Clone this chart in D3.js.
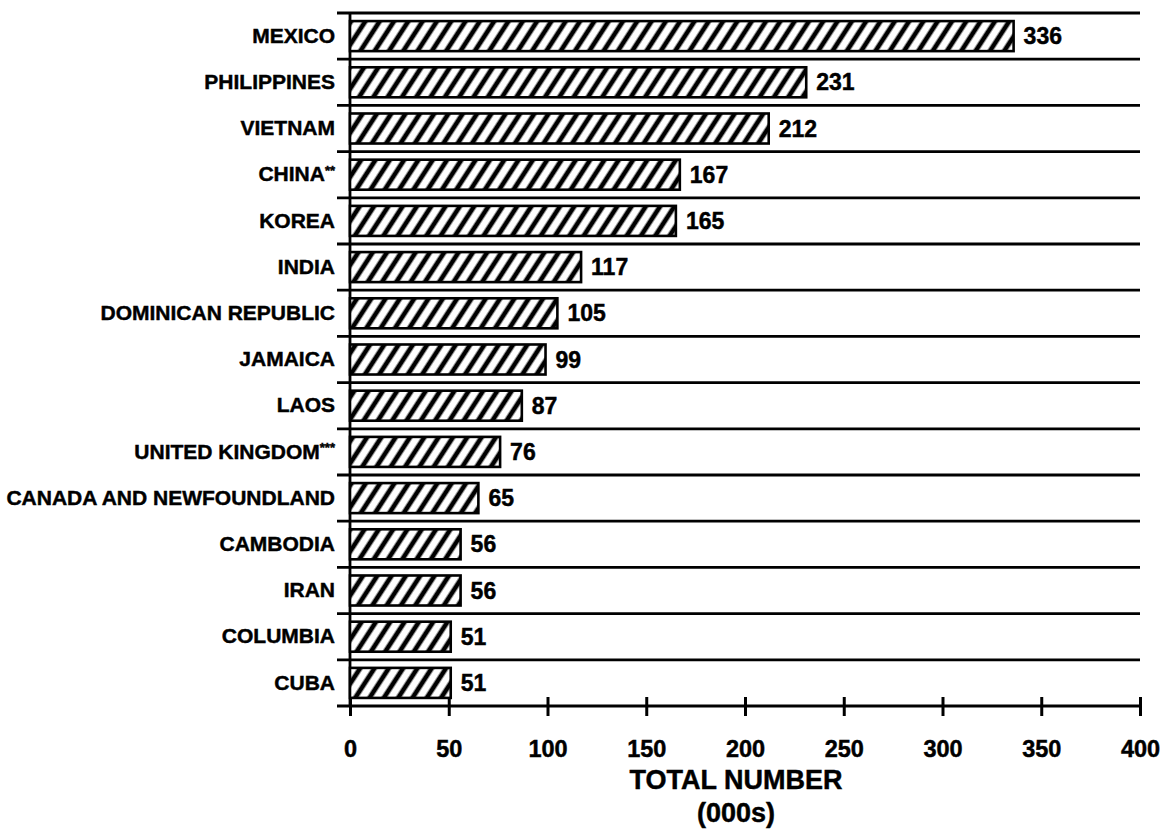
<!DOCTYPE html>
<meta charset="utf-8">
<head lang="en">
    <title>Total number by country</title>
    <script src="https://cdn.jsdelivr.net/npm/d3@7/dist/d3.min.js"></script>
    <style type="text/css">
        body { margin: 0; background: #fff; }
        text { font-family: "Liberation Sans", Arial, Helvetica, sans-serif; font-weight: bold; fill: #000; stroke: #000; stroke-width: 0.45; }
        .bar { fill: url(#hatch); stroke: #000; stroke-width: 2.6; }
        .sep { stroke: #000; stroke-width: 2.8; }
    </style>
</head>
<body>
<script type="text/javascript">

    // data
    var countries = ["MEXICO", "PHILIPPINES", "VIETNAM", "CHINA**", "KOREA", "INDIA",
        "DOMINICAN REPUBLIC", "JAMAICA", "LAOS", "UNITED KINGDOM***",
        "CANADA AND NEWFOUNDLAND", "CAMBODIA", "IRAN", "COLUMBIA", "CUBA"];
    var totals = [336, 231, 212, 167, 165, 117, 105, 99, 87, 76, 65, 56, 56, 51, 51];
    var xTicks = [0, 50, 100, 150, 200, 250, 300, 350, 400];
    var axisTitle = ["TOTAL NUMBER", "(000s)"];

    var width = 1165;
    var height = 833;
    var margin = {top: 13, left: 350, right: 25, bottom: 127};

    var ds = countries.map(function (c, i) {
        return {name: c, value: totals[i]};
    });

    var svg = d3.select("body")
        .append("svg")
        .attr("width", width)
        .attr("height", height);

    // hatch fill for the bars
    var pat = svg.append("defs").append("pattern")
        .attr("id", "hatch")
        .attr("patternUnits", "userSpaceOnUse")
        .attr("width", 12)
        .attr("height", 12)
        .attr("patternTransform", "rotate(33)");
    pat.append("rect").attr("width", 12).attr("height", 12).attr("fill", "#fff");
    pat.append("line")
        .attr("x1", 6).attr("y1", -1).attr("x2", 6).attr("y2", 13)
        .attr("stroke", "#000").attr("stroke-width", 4.8);

    var xScale = d3.scaleLinear()
        .domain([0, 400])
        .range([margin.left, width - margin.right]);

    var yScale = d3.scaleBand()
        .domain(countries)
        .range([margin.top, height - margin.bottom])
        .paddingInner(0.35)
        .paddingOuter(0.175);

    var step = yScale.step();
    var y0 = yScale.range()[0];
    var y1 = yScale.range()[1];

    // horizontal separators between rows (the last one is the x axis)
    svg.selectAll(".sep")
        .data(d3.range(countries.length + 1))
        .enter()
        .append("line")
        .attr("class", "sep")
        .attr("x1", margin.left - 13)
        .attr("x2", xScale(400))
        .attr("y1", function (i) { return y0 + i * step; })
        .attr("y2", function (i) { return y0 + i * step; });

    // vertical axis line
    svg.append("line")
        .attr("class", "sep")
        .attr("x1", xScale(0)).attr("x2", xScale(0))
        .attr("y1", y0).attr("y2", y1);

    // x axis
    var xAxis = d3.axisBottom(xScale)
        .tickValues(xTicks)
        .tickSize(10)
        .tickSizeOuter(0)
        .tickPadding(24);
    var gx = svg.append("g")
        .attr("transform", "translate(0," + y1 + ")")
        .call(xAxis);
    gx.select(".domain").remove();
    gx.selectAll(".tick line")
        .attr("y1", -9)
        .attr("stroke", "#000")
        .attr("stroke-width", 3);
    gx.selectAll(".tick text")
        .attr("font-size", "23.5px")
        .style("font-family", "'Liberation Sans', Arial, sans-serif")
        .style("font-weight", "bold");

    // country labels
    var yAxis = d3.axisLeft(yScale)
        .tickSize(0)
        .tickPadding(15);
    var gy = svg.append("g")
        .attr("transform", "translate(" + xScale(0) + ",0)")
        .call(yAxis);
    gy.select(".domain").remove();
    gy.selectAll(".tick text")
        .attr("font-size", "21px")
        .style("font-family", "'Liberation Sans', Arial, sans-serif")
        .style("font-weight", "bold")
        .each(function (d) {
            var k = d.indexOf("*");
            if (k < 0) return;
            var t = d3.select(this);
            t.text(d.slice(0, k));
            t.append("tspan")
                .attr("font-size", "13px")
                .attr("dy", "-0.5em")
                .text(d.slice(k));
        });

    // bars
    svg.selectAll(".bar")
        .data(ds)
        .enter()
        .append("rect")
        .attr("class", "bar")
        .attr("x", xScale(0))
        .attr("y", function (d) { return yScale(d.name); })
        .attr("width", function (d) { return xScale(d.value) - xScale(0); })
        .attr("height", yScale.bandwidth());

    // value labels
    svg.selectAll(".val")
        .data(ds)
        .enter()
        .append("text")
        .attr("class", "val")
        .attr("x", function (d) { return xScale(d.value) + 10; })
        .attr("y", function (d) { return yScale(d.name) + yScale.bandwidth() / 2 + 2; })
        .attr("dominant-baseline", "middle")
        .attr("font-size", "23px")
        .text(function (d) { return d.value; });

    // axis title
    svg.selectAll(".title")
        .data(axisTitle)
        .enter()
        .append("text")
        .attr("x", 736)
        .attr("y", function (d, i) { return 789 + i * 33; })
        .attr("text-anchor", "middle")
        .attr("font-size", "27px")
        .text(function (d) { return d; });

</script>
</body>
